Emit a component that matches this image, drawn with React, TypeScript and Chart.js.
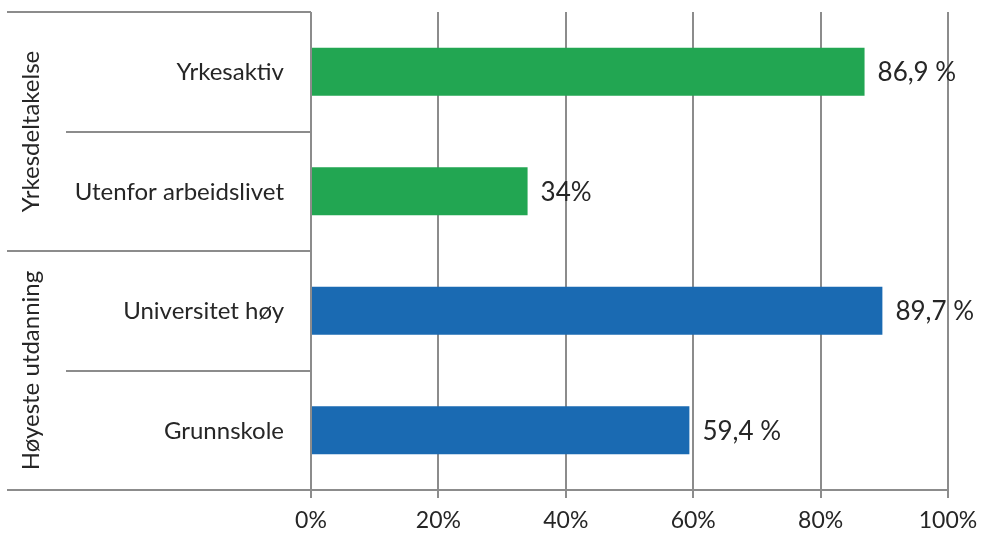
import React, { useEffect, useRef } from "react";
import { Chart, registerables } from "chart.js";

Chart.register(...registerables);

// Categories, top to bottom
const categories: string[] = ["Yrkesaktiv", "Utenfor arbeidslivet", "Universitet høy", "Grunnskole"];
// Share in percent for each category
const values: number[] = [86.9, 34, 89.7, 59.4];
// Group each category belongs to
const groupNames: string[] = ["Yrkesdeltakelse", "Høyeste utdanning"];
const groupOf: number[] = [0, 0, 1, 1];
const groupColors: string[] = ["#22A652", "#1A6AB2"];
// Tick marks along the percentage axis
const xTicks: number[] = [0, 20, 40, 60, 80, 100];

const FONT = "Lato, 'Open Sans', sans-serif";
const TEXT = "#262626";
const LINE = "#8c8c8c";

const formatValue = (v: number) =>
  Number.isInteger(v) ? `${v}%` : `${v.toFixed(1).replace(".", ",")} %`;

// Draws the grouped category table to the left of the plot and the value labels.
const tablePlugin = {
  id: "groupTable",
  afterDraw(chart: any) {
    const { ctx, chartArea, scales } = chart;
    const y = scales.y;
    const left = chartArea.left;
    const outerX = 7;
    const innerX = 66;
    const n = categories.length;
    const band = (chartArea.bottom - chartArea.top) / n;

    ctx.save();
    ctx.strokeStyle = LINE;
    ctx.lineWidth = 2;
    for (let i = 0; i <= n; i++) {
      const yy = Math.round(chartArea.top + band * i);
      const isGroupEdge = i === 0 || i === n || groupOf[i] !== groupOf[i - 1];
      ctx.beginPath();
      ctx.moveTo(isGroupEdge ? outerX : innerX, yy);
      ctx.lineTo(left, yy);
      ctx.stroke();
    }

    ctx.fillStyle = TEXT;
    ctx.textBaseline = "middle";

    // category names, right-aligned against the plot
    ctx.font = `24px ${FONT}`;
    ctx.textAlign = "right";
    categories.forEach((name, i) => {
      ctx.fillText(name, left - 27, y.getPixelForValue(i) + 1);
    });

    // rotated group names
    ctx.textAlign = "center";
    groupNames.forEach((name, g) => {
      const idx = groupOf.map((v, i) => (v === g ? i : -1)).filter((i) => i >= 0);
      const top = y.getPixelForValue(idx[0]) - band / 2;
      const bottom = y.getPixelForValue(idx[idx.length - 1]) + band / 2;
      ctx.save();
      ctx.translate(31, (top + bottom) / 2);
      ctx.rotate(-Math.PI / 2);
      ctx.fillText(name, 0, 0);
      ctx.restore();
    });

    // value labels next to the bars
    const meta = chart.getDatasetMeta(0);
    ctx.font = `26px ${FONT}`;
    ctx.textAlign = "left";
    meta.data.forEach((bar: any, i: number) => {
      ctx.fillText(formatValue(values[i]), bar.x + 13, bar.y + 1);
    });
    ctx.restore();
  },
};

export default function App() {
  const canvasRef = useRef<HTMLCanvasElement | null>(null);

  useEffect(() => {
    if (!canvasRef.current) return;
    const chart = new Chart(canvasRef.current, {
      type: "bar",
      data: {
        labels: categories,
        datasets: [
          {
            data: values,
            backgroundColor: groupOf.map((g) => groupColors[g]),
            barPercentage: 0.4,
            categoryPercentage: 1,
          },
        ],
      },
      options: {
        indexAxis: "y",
        animation: false,
        responsive: false,
        maintainAspectRatio: false,
        layout: { padding: { top: 12, right: 34, left: 0, bottom: 0 } },
        plugins: { legend: { display: false }, tooltip: { enabled: false } },
        scales: {
          x: {
            min: 0,
            max: 100,
            afterBuildTicks: (scale: any) => {
              scale.ticks = xTicks.map((v) => ({ value: v }));
            },
            afterFit: (scale: any) => {
              scale.height = 48;
              scale.paddingLeft = 0;
              scale.paddingRight = 0;
            },
            grid: { color: LINE, lineWidth: 2, tickLength: 8, drawTicks: true },
            border: { color: LINE, width: 2 },
            ticks: {
              padding: 9,
              color: TEXT,
              font: { family: FONT, size: 23 },
              callback: (v: any) => `${v}%`,
            },
          },
          y: {
            afterFit: (scale: any) => {
              scale.width = 311;
              scale.paddingTop = 0;
              scale.paddingBottom = 0;
            },
            grid: { display: false, drawTicks: false },
            border: { display: false },
            ticks: { display: false },
          },
        },
      },
      plugins: [tablePlugin],
    });
    return () => chart.destroy();
  }, []);

  return (
    <div style={{ position: "fixed", left: 0, top: 0, width: 982, height: 538, background: "#fff" }}>
      <canvas ref={canvasRef} width={982} height={538} style={{ display: "block" }} />
    </div>
  );
}
